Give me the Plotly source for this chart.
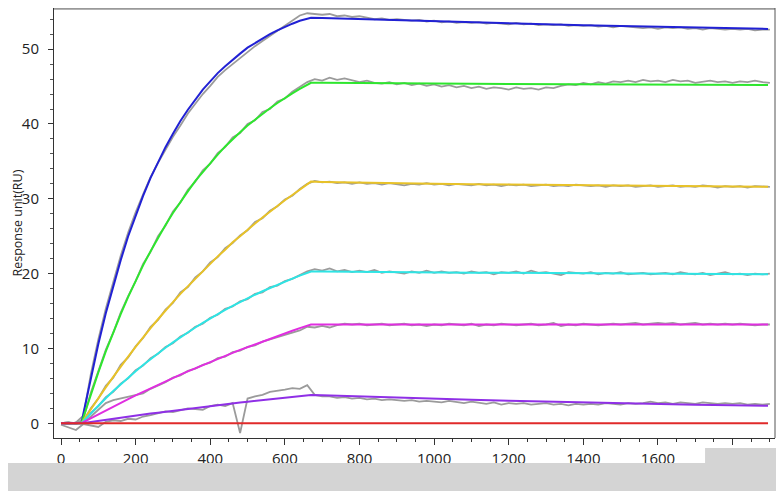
import plotly.graph_objects as go

# ---------------- data ----------------
# raw (measured) traces, sampled every 20 s from 0 to 1900 s
raw_time = list(range(0, 1901, 20))

raw_blue = [
    0.0, -0.1, 0.1, 1.0, 6.6, 11.2, 15.3, 19.0, 22.4, 25.5,
    28.2, 30.6, 32.9, 34.8, 36.6, 38.3, 39.8, 41.4, 42.7, 44.0,
    45.1, 46.3, 47.2, 48.0, 48.9, 49.7, 50.4, 51.1, 51.8, 52.5,
    53.2, 53.8, 54.5, 54.8, 54.7, 54.6, 54.7, 54.4, 54.5, 54.3,
    54.4, 54.2, 54.0, 54.1, 53.9, 54.0, 53.9, 53.8, 53.9, 53.7,
    53.8, 53.6, 53.7, 53.5, 53.6, 53.5, 53.6, 53.4, 53.5, 53.4,
    53.3, 53.5, 53.3, 53.4, 53.2, 53.3, 53.2, 53.3, 53.1, 53.2,
    53.1, 53.2, 53.0, 53.1, 52.9, 53.1, 53.0, 52.9, 52.8, 52.9,
    52.7, 52.9, 52.8, 52.9, 52.7, 52.8, 52.6, 52.8, 52.7, 52.6,
    52.7, 52.6, 52.7, 52.5, 52.6, 52.6,
]
raw_green = [
    0.0, 0.1, -0.1, 0.6, 4.1, 6.9, 9.8, 12.1, 14.8, 17.0,
    19.0, 21.3, 22.9, 25.0, 26.4, 28.3, 29.5, 31.2, 32.3, 33.8,
    34.7, 36.1, 36.9, 38.2, 38.8, 40.0, 40.5, 41.6, 42.0, 43.0,
    43.4, 44.3, 44.9, 45.6, 46.0, 45.8, 46.2, 45.9, 46.1, 45.8,
    45.6, 45.8, 45.5, 45.4, 45.6, 45.3, 45.5, 45.2, 45.4, 45.1,
    45.3, 45.0, 45.2, 44.9, 45.1, 44.8, 45.0, 44.7, 44.9, 44.8,
    44.6, 44.9, 44.7, 44.8, 44.6, 44.9, 44.8, 45.1, 45.3, 45.2,
    45.5, 45.3, 45.6, 45.4, 45.7, 45.6, 45.8, 45.6, 45.9, 45.7,
    45.8, 45.6, 45.9, 45.7, 45.8, 45.5, 45.7, 45.8, 45.6, 45.7,
    45.5, 45.7, 45.6, 45.8, 45.6, 45.5,
]
raw_yellow = [
    0.0, 0.1, 0.0, 0.3, 2.0, 3.3, 5.0, 6.1, 7.8, 8.8,
    10.3, 11.4, 12.9, 13.8, 15.2, 16.1, 17.5, 18.2, 19.5, 20.3,
    21.5, 22.2, 23.4, 24.1, 25.1, 25.8, 26.9, 27.4, 28.4, 29.0,
    29.9, 30.4, 31.3, 32.0, 32.4, 32.2, 32.3, 32.1, 32.2, 32.0,
    32.2, 32.0, 32.1, 31.9, 32.1, 32.0, 31.8, 32.0, 31.9, 32.1,
    31.9, 32.0, 31.8, 32.0, 31.9, 31.8, 32.0, 31.8, 31.9, 31.7,
    31.9, 31.8, 31.9, 31.7, 31.8, 31.9, 31.7, 31.8, 31.7, 31.9,
    31.8, 31.7, 31.8, 31.6, 31.8, 31.7, 31.8, 31.6, 31.7, 31.8,
    31.6, 31.7, 31.8, 31.6, 31.7, 31.6, 31.8, 31.7, 31.5, 31.7,
    31.6, 31.7, 31.5, 31.7, 31.6, 31.6,
]
raw_cyan = [
    0.0, 0.1, -0.1, 0.2, 1.4, 2.3, 3.5, 4.2, 5.3, 6.0,
    7.1, 7.7, 8.7, 9.3, 10.2, 10.7, 11.6, 12.1, 12.9, 13.3,
    14.1, 14.5, 15.3, 15.6, 16.3, 16.6, 17.3, 17.5, 18.2, 18.4,
    19.0, 19.3, 19.8, 20.3, 20.6, 20.4, 20.7, 20.3, 20.5, 20.2,
    20.4, 20.2, 20.5, 20.1, 20.3, 20.2, 20.0, 20.3, 20.1, 20.4,
    20.1, 20.3, 20.1, 20.2, 20.0, 20.3, 20.1, 20.2, 19.9, 20.2,
    20.1, 20.3, 20.0, 20.4, 20.1, 20.2, 20.0, 19.8, 20.2, 20.1,
    20.0, 20.2, 19.9, 20.1, 20.0, 20.2, 19.9, 20.0, 20.1, 19.9,
    20.0, 20.1, 19.9, 20.2, 20.0, 19.9, 20.1, 19.8, 20.0, 20.2,
    19.9, 20.0, 19.8, 20.0, 19.9, 20.0,
]
raw_magenta = [
    0.0, -0.1, 0.1, 0.1, 0.9, 1.8, 2.7, 3.1, 3.3, 3.6,
    3.7, 4.0, 4.6, 5.0, 5.5, 6.1, 6.4, 7.0, 7.3, 7.8,
    8.1, 8.7, 8.9, 9.5, 9.7, 10.2, 10.4, 10.9, 11.2, 11.5,
    11.8, 12.1, 12.4, 12.9, 12.8, 13.0, 12.8, 13.1, 13.3, 13.2,
    13.3, 13.1, 13.2, 13.3, 13.1, 13.2, 13.3, 13.1, 13.2, 13.0,
    13.2, 13.1, 13.3, 13.2, 13.1, 13.3, 13.0, 13.2, 13.1, 13.3,
    13.2, 13.1, 13.2, 13.3, 13.1, 13.2, 13.4, 13.0, 13.2, 13.1,
    13.3, 13.2, 13.1, 13.2, 13.3, 13.2, 13.3, 13.4, 13.2, 13.3,
    13.4, 13.3, 13.4, 13.2, 13.3, 13.4, 13.2, 13.3, 13.2, 13.3,
    13.2, 13.3, 13.2, 13.1, 13.2, 13.2,
]
raw_purple = [
    -0.2, -0.6, -0.9, -0.1, -0.3, -0.5, 0.2, 0.4, 0.3, 0.6,
    0.5, 0.9, 1.1, 1.3, 1.6, 1.5, 1.8, 2.0, 1.9, 1.8,
    2.3, 2.5, 2.3, 2.7, -1.3, 3.3, 3.6, 3.8, 4.2, 4.3,
    4.5, 4.7, 4.6, 5.1, 3.8, 3.6, 3.6, 3.4, 3.5, 3.3,
    3.4, 3.2, 3.3, 3.1, 3.2, 3.1, 3.0, 3.1, 2.9, 3.0,
    2.9, 2.8, 3.0, 2.8, 2.7, 2.9, 2.7, 2.6, 2.8, 2.5,
    2.7, 2.6, 2.7, 2.5, 2.6, 2.7, 2.5, 2.6, 2.4, 2.6,
    2.5, 2.6, 2.5, 2.7, 2.6, 2.5, 2.7, 2.6, 2.7, 2.9,
    2.7, 2.8, 2.6, 2.8, 2.7, 2.6, 2.8, 2.7, 2.6, 2.7,
    2.6, 2.7, 2.5, 2.6, 2.5, 2.6,
]

# fitted curves (1:1 model), injection 55 s -> 670 s then dissociation
fit_time = [0, 55, 60, 80, 100, 120, 140, 160, 180, 200, 220, 240, 260, 280,
            300, 320, 340, 360, 380, 400, 420, 440, 460, 480, 500, 520, 540,
            560, 580, 600, 620, 640, 660, 670, 700, 800, 900, 1000, 1100,
            1200, 1300, 1400, 1500, 1600, 1700, 1800, 1895]

fit_blue = [0, 0, 1.3, 6.2, 10.6, 14.7, 18.4, 21.8, 25.0, 27.8, 30.4, 32.8, 34.9, 36.9,
            38.7, 40.4, 41.9, 43.3, 44.6, 45.7, 46.8, 47.7, 48.6, 49.4, 50.2, 50.8, 51.5,
            52.0, 52.5, 53.0, 53.4, 53.8, 54.1, 54.2, 54.15, 54.0, 53.85, 53.7, 53.6,
            53.45, 53.35, 53.2, 53.1, 53.0, 52.9, 52.8, 52.7]
fit_green = [0, 0, 0.8, 3.9, 6.8, 9.6, 12.2, 14.6, 16.9, 19.1, 21.1, 23.0, 24.8, 26.5,
             28.1, 29.6, 31.0, 32.4, 33.6, 34.8, 35.9, 37.0, 38.0, 38.9, 39.8, 40.6, 41.4,
             42.1, 42.8, 43.5, 44.1, 44.7, 45.2, 45.5, 45.5, 45.45, 45.42, 45.4, 45.37,
             45.35, 45.32, 45.3, 45.27, 45.25, 45.22, 45.2, 45.2]
fit_yellow = [0, 0, 0.4, 1.9, 3.4, 4.8, 6.2, 7.6, 8.9, 10.2, 11.5, 12.7, 13.9, 15.1,
              16.2, 17.3, 18.3, 19.4, 20.4, 21.4, 22.3, 23.2, 24.2, 25.0, 25.9, 26.7, 27.5,
              28.3, 29.1, 29.8, 30.5, 31.2, 31.9, 32.3, 32.25, 32.15, 32.05, 32.0, 31.95,
              31.9, 31.85, 31.8, 31.75, 31.7, 31.68, 31.65, 31.6]
fit_cyan = [0, 0, 0.27, 1.33, 2.36, 3.35, 4.30, 5.22, 6.11, 6.96, 7.78, 8.58, 9.35, 10.09,
            10.81, 11.50, 12.16, 12.80, 13.42, 14.02, 14.59, 15.15, 15.68, 16.20, 16.70,
            17.18, 17.64, 18.09, 18.52, 18.94, 19.34, 19.73, 20.10, 20.29, 20.28, 20.22,
            20.18, 20.15, 20.12, 20.1, 20.07, 20.05, 20.02, 20.0, 19.97, 19.95, 19.92]
fit_magenta = [0, 0, 0.14, 0.67, 1.20, 1.72, 2.24, 2.74, 3.24, 3.72, 4.20, 4.68, 5.14, 5.60,
               6.05, 6.49, 6.93, 7.36, 7.78, 8.20, 8.61, 9.01, 9.41, 9.80, 10.18, 10.56,
               10.93, 11.30, 11.66, 12.02, 12.36, 12.71, 13.05, 13.2, 13.2, 13.2, 13.2,
               13.2, 13.2, 13.2, 13.2, 13.2, 13.2, 13.2, 13.2, 13.2, 13.2]
fit_purple = [0, 0, 0.04, 0.18, 0.33, 0.47, 0.61, 0.75, 0.89, 1.02, 1.16, 1.29, 1.42, 1.55,
              1.68, 1.81, 1.93, 2.06, 2.18, 2.30, 2.42, 2.54, 2.65, 2.77, 2.88, 2.99, 3.11,
              3.22, 3.32, 3.43, 3.54, 3.64, 3.74, 3.78, 3.75, 3.58, 3.42, 3.28, 3.14,
              3.01, 2.89, 2.78, 2.67, 2.57, 2.48, 2.40, 2.33]
fit_red = [0] * len(fit_time)

y_title = 'Response unit(RU)'

raw_sets = [raw_blue, raw_green, raw_yellow, raw_cyan, raw_magenta, raw_purple]
fit_sets = [
    (fit_blue, '#2121d4'),
    (fit_green, '#2ee62e'),
    (fit_yellow, '#e8c228'),
    (fit_cyan, '#2ee4e4'),
    (fit_magenta, '#e02ee0'),
    (fit_purple, '#8f2fe6'),
    (fit_red, '#e02a2a'),
]

fig = go.Figure()

# measured data in grey underneath
for ys in raw_sets:
    fig.add_trace(go.Scatter(x=raw_time, y=ys, mode='lines',
                             line=dict(color='#9b9b9b', width=1.8),
                             hoverinfo='skip', showlegend=False))

# fitted curves on top
for ys, col in fit_sets:
    fig.add_trace(go.Scatter(x=fit_time, y=ys, mode='lines',
                             line=dict(color=col, width=2),
                             showlegend=False))

tick_font = dict(family='Open Sans, Noto Sans, sans-serif', size=15, color='#222222')

# the page body adds an 8 px offset, margins are set with that in mind
fig.update_layout(
    width=784, height=491,
    margin=dict(l=46, r=17, t=0, b=61, autoexpand=False),
    paper_bgcolor='white', plot_bgcolor='white',
    showlegend=False,
    xaxis=dict(
        range=[-18.8, 1913.7],
        automargin=False,
        showgrid=False, zeroline=False,
        showline=True, linecolor='#333333', linewidth=1,
        ticks='outside', ticklen=6, tickwidth=1, tickcolor='#333333',
        tick0=0, dtick=200,
        minor=dict(ticks='outside', ticklen=3, dtick=50, tickcolor='#333333'),
        tickfont=tick_font,
        ticklabelstandoff=1,
    ),
    yaxis=dict(
        range=[-1.97, 55.5],
        automargin=False,
        showgrid=False, zeroline=False,
        showline=True, linecolor='#333333', linewidth=1,
        ticks='outside', ticklen=5, tickwidth=1, tickcolor='#333333',
        tick0=0, dtick=10,
        minor=dict(ticks='outside', ticklen=3, dtick=2, tickcolor='#555555'),
        tickfont=tick_font,
        ticklabelstandoff=6,
    ),
)

# y title as a rotated annotation so it sits clear of the tick labels
fig.add_annotation(text=y_title, xref='paper', yref='paper', x=-0.052, y=0.5,
                   xanchor='center', yanchor='middle', textangle=-90, showarrow=False,
                   borderpad=0,
                   font=dict(family='Open Sans, Noto Sans, sans-serif', size=12.5, color='#222222'))

# grey frame on top and right
fig.add_shape(type='line', xref='paper', yref='paper', x0=0, x1=1, y0=0.998, y1=0.998,
              line=dict(color='#999999', width=2))
fig.add_shape(type='line', xref='paper', yref='paper', x0=1, x1=1, y0=0, y1=1,
              line=dict(color='#555555', width=1))

# dotted grey strip along the bottom of the picture
fig.add_shape(type='rect', xref='paper', yref='paper', x0=-0.07, x1=1.03,
              y0=-0.1233, y1=-0.0581, line=dict(width=0), fillcolor='#d4d4d4', layer='above')
fig.add_shape(type='rect', xref='paper', yref='paper', x0=0.903, x1=1.03,
              y0=-0.0581, y1=-0.0233, line=dict(width=0), fillcolor='#d4d4d4', layer='above')

fig.write_html("out.html")
